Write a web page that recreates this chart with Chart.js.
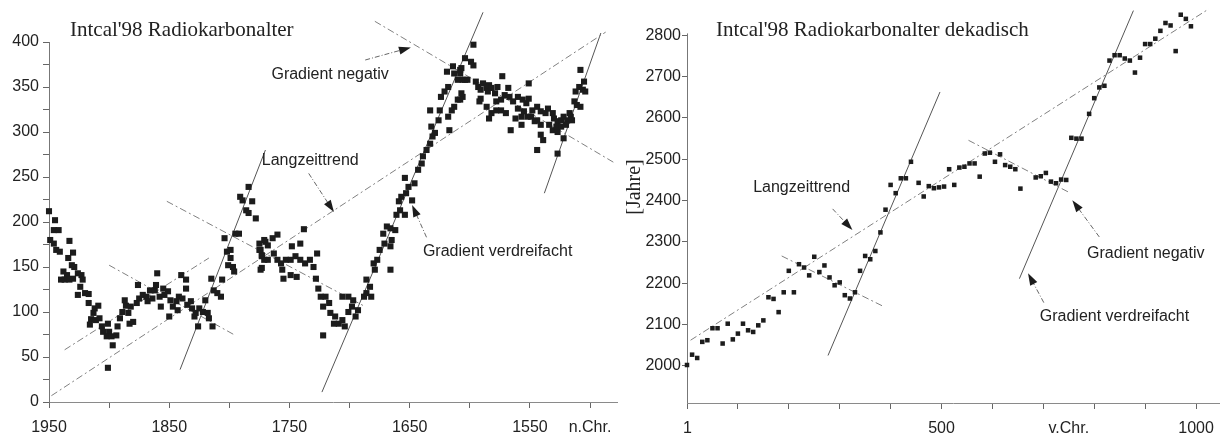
<!DOCTYPE html>
<html>
<head>
<meta charset="utf-8">
<script src="https://cdn.jsdelivr.net/npm/chart.js@4.4.1/dist/chart.umd.min.js"></script>
<style>
  html, body { margin: 0; padding: 0; background: #fff; }
  #wrap { position: relative; width: 1224px; height: 441px; overflow: hidden; }
  canvas { position: absolute; top: 0; }
  #leftChart { left: 0; }
  #rightChart { left: 622px; }
</style>
</head>
<body>
<div id="wrap">
  <canvas id="leftChart" width="622" height="441"></canvas>
  <canvas id="rightChart" width="602" height="441"></canvas>
</div>
<script>
// ---- left panel: Intcal'98, 1950 .. 1500 n.Chr.
const leftYears = [
  1950,1945,1946,1942,1949,1946,1944,1941,1933,1930,
  1934,1931,1929,1938,1935,1937,1940,1933,1930,1926,
  1923,1922,1924,1926,1920,1917,1917,1912,1909,1913,
  1915,1911,1916,1908,1906,1905,1901,1900,1902,1898,
  1897,1894,1893,1891,1889,1886,1887,1884,1883,1880,
  1882,1877,1875,1876,1872,1869,1866,1868,1864,1862,
  1861,1860,1858,1857,1855,1854,1851,1850,1849,1847,
  1844,1842,1843,1839,1840,1836,1836,1835,1832,1831,
  1828,1829,1826,1825,1822,1820,1818,1815,1817,1814,
  1813,1810,1807,1806,1804,1802,1799,1801,1797,1796,
  1795,1792,1799,1791,1784,1789,1781,1786,1784,1778,
  1775,1774,1773,1770,1771,1774,1901,
  1771,1768,1764,1760,1775,1773,1768,1763,1760,1757,
  1753,1749,1745,1741,1737,1733,1730,1727,1748,1741,
  1738,1756,1755,1749,1744,1773,1728,1726,1724,1720,
  1717,1722,1716,1712,1709,1706,1713,1704,1722,1701,
  1698,1695,1693,1706,1701,1697,1688,1686,1683,1682,
  1686,1679,1680,1677,1675,1671,1672,1669,1666,1662,
  1665,1666,1666,1661,1658,1654,1659,1657,1653,1648,
  1651,1646,1654,1643,1640,1639,1636,1633,1631,1629,
  1632,1626,1633,1625,1624,1621,1618,1615,1613,1610,
  1606,1619,1613,1608,1610,1604,1617,1618,1614,
  1597,1604,1599,1597,1607,1608,1606,1602,1607,1608,
  1595,1593,1589,1591,1586,1584,1585,1579,1582,1577,
  1573,1568,1574,1578,1571,1567,1564,1560,1556,1553,
  1551,1548,1549,1544,1541,1537,1535,1531,1530,1527,
  1524,1522,1519,1516,1515,1517,1513,1511,1508,1512,
  1509,1505,1506,1504,1508,1551,1591,1592,1586,1582,
  1584,1578,1574,1570,1566,1562,1557,1557,1560,1555,
  1552,1546,1544,1541,1534,1531,1527,1541,1539,1522,
  1544,1527,1528,1524,1520
];
const leftAge = [
  212,202,191,191,180,176,169,167,179,166,
  160,152,150,145,141,136,136,136,137,143,
  141,136,128,119,121,120,110,104,107,99,
  92,91,86,93,84,78,87,78,73,73,
  63,74,84,93,100,107,113,99,87,89,
  106,110,115,130,119,117,124,112,115,124,
  130,143,117,106,126,119,123,95,113,106,
  112,117,102,115,141,136,126,108,112,104,
  99,95,84,104,100,113,99,137,93,84,
  124,121,117,136,182,167,169,152,150,145,
  187,187,160,228,239,224,223,213,210,204,
  176,169,163,178,158,147,38,
  180,174,182,186,169,162,158,165,158,154,
  158,158,162,158,154,158,150,165,173,176,
  192,147,137,141,139,149,137,126,117,117,
  110,106,99,95,87,91,87,84,74,100,
  106,95,102,117,117,113,117,121,128,117,
  136,147,154,158,169,176,187,195,193,191,
  180,173,147,208,213,208,223,228,232,224,
  239,243,249,258,265,273,280,287,295,299,
  306,313,324,324,339,345,350,324,328,336,
  339,367,365,369,358,358,302,317,373,
  397,382,378,374,371,365,358,358,343,336,
  356,350,354,347,349,352,345,343,349,350,
  362,349,336,334,341,339,334,339,336,332,
  337,324,317,328,323,321,326,321,315,312,
  313,317,313,317,313,321,334,330,328,345,
  350,356,347,345,369,354,337,334,328,321,
  315,324,324,321,302,315,317,308,326,323,
  317,312,313,308,308,302,300,297,291,293,
  280,276,306,306,308
];
const leftXTicks = [1950, 1900, 1850, 1800, 1750, 1700, 1650, 1600, 1550, 1500];
const leftXLabels = ["1950", "", "1850", "", "1750", "", "1650", "", "1550", "n.Chr."];
const leftYTicks = [0, 25, 50, 75, 100, 125, 150, 175, 200, 225, 250, 275, 300, 325, 350, 375, 400];

// trend lines [year, age]
const leftLongTrend = [[1948, 7], [1487, 411]];
const leftParallel = [[1937, 58], [1817, 160]];
const leftNegA = [[1900, 152], [1795, 74]];
const leftNegB = [[1852, 223], [1687, 106]];
const leftNegC = [[1679, 423], [1480, 266]];
const leftSteepA = [[1841, 36], [1770, 280]];
const leftSteepB = [[1723, 11], [1589, 433]];
const leftSteepC = [[1538, 232], [1491, 410]];

// ---- right panel: decadal, 1 .. 1000 v.Chr.
const rightYears = [
  0,10,20,30,40,50,60,70,80,90,
  100,110,120,130,140,150,160,170,180,190,
  200,210,220,230,240,250,260,270,280,290,
  300,310,320,330,340,350,360,370,380,390,
  400,410,420,430,440,455,465,475,485,495,
  505,515,525,535,545,555,565,575,585,595,
  605,615,625,635,645,655,685,695,705,715,
  725,735,745,755,765,775,790,800,810,820,
  830,840,850,860,870,880,890,900,910,920,
  930,940,950,960,970,980,990
];
const rightAge = [
  2002,2027,2019,2058,2062,2091,2091,2054,2102,2064,
  2078,2102,2086,2082,2098,2110,2166,2162,2130,2178,
  2230,2178,2246,2238,2219,2264,2227,2243,2214,2195,
  2202,2171,2163,2178,2230,2266,2258,2278,2323,2378,
  2438,2418,2454,2454,2494,2443,2410,2435,2430,2432,
  2434,2476,2438,2480,2482,2490,2490,2458,2514,2516,
  2494,2512,2486,2482,2476,2429,2456,2459,2467,2446,
  2442,2451,2450,2552,2550,2550,2610,2648,2674,2678,
  2739,2752,2752,2744,2739,2710,2746,2779,2779,2792,
  2811,2830,2824,2762,2850,2840,2822
];
const rightXTicks = [1, 100, 200, 300, 400, 500, 600, 700, 750, 800, 900, 1000];
const rightXLabels = ["1", "", "", "", "", "500", "", "", "v.Chr.", "", "", "1000"];
const rightYTicks = [2000, 2100, 2200, 2300, 2400, 2500, 2600, 2700, 2800];

const rightLongTrend = [[7, 2062], [1025, 2864]];
const rightNegA = [[186, 2266], [384, 2145]];
const rightNegB = [[553, 2546], [752, 2419]];
const rightSteepA = [[277, 2025], [497, 2663]];
const rightSteepB = [[653, 2211], [877, 2860]];

const SANS = '"Liberation Sans", Arial, sans-serif';
const SERIF = '"Liberation Serif", "Times New Roman", serif';

function pts(xs, ys) {
  return xs.map((v, i) => ({ x: v, y: ys[i] }));
}

function trend(line, steep) {
  return {
    data: line.map(p => ({ x: p[0], y: p[1] })),
    showLine: true,
    pointRadius: 0,
    borderColor: steep ? '#555' : '#808080',
    borderWidth: 1,
    borderDash: steep ? [] : [7, 3, 2, 3],
    clip: false,
    order: 2
  };
}

function scatter(xs, ys, r) {
  return {
    data: pts(xs, ys),
    pointStyle: 'rect',
    pointRadius: r,
    backgroundColor: '#1c1c1c',
    borderWidth: 0,
    clip: false,
    order: 1
  };
}

// titles, texts, arrows (and a shortened y axis line on the right)
function notes(cfg) {
  return {
    id: 'notes',
    beforeDatasetsDraw(chart) {
      if (cfg.axisTop === undefined) return;
      const { ctx, chartArea, scales: { y } } = chart;
      ctx.save();
      ctx.strokeStyle = '#777';
      ctx.lineWidth = 1;
      ctx.beginPath();
      ctx.moveTo(chartArea.left + 0.5, y.getPixelForValue(cfg.axisTop) - 2);
      ctx.lineTo(chartArea.left + 0.5, chartArea.bottom);
      ctx.stroke();
      ctx.restore();
    },
    afterDatasetsDraw(chart) {
      const { ctx, scales: { x, y } } = chart;
      ctx.save();
      ctx.fillStyle = '#222';
      ctx.font = '21px ' + SERIF;
      ctx.textAlign = 'left';
      ctx.textBaseline = 'alphabetic';
      ctx.fillText(cfg.title, cfg.titleX, cfg.titleY);

      if (cfg.yTitle) {
        ctx.save();
        ctx.font = '20px ' + SERIF;
        ctx.translate(cfg.yTitle.x, cfg.yTitle.y);
        ctx.rotate(-Math.PI / 2);
        ctx.textAlign = 'center';
        ctx.textBaseline = 'middle';
        ctx.fillText(cfg.yTitle.text, 0, 0);
        ctx.restore();
      }

      ctx.font = '16px ' + SANS;
      ctx.textBaseline = 'middle';
      cfg.labels.forEach(l => {
        ctx.fillText(l.text, x.getPixelForValue(l.at[0]), y.getPixelForValue(l.at[1]));
      });

      cfg.arrows.forEach(a => {
        const x1 = x.getPixelForValue(a.from[0]), y1 = y.getPixelForValue(a.from[1]);
        const x2 = x.getPixelForValue(a.to[0]), y2 = y.getPixelForValue(a.to[1]);
        const ang = Math.atan2(y2 - y1, x2 - x1);
        const c = Math.cos(ang), s = Math.sin(ang);
        ctx.strokeStyle = '#666';
        ctx.lineWidth = 1;
        ctx.setLineDash([5, 2, 1, 2]);
        ctx.beginPath();
        ctx.moveTo(x1, y1);
        ctx.lineTo(x2 - 8 * c, y2 - 8 * s);
        ctx.stroke();
        ctx.setLineDash([]);
        ctx.beginPath();
        ctx.moveTo(x2, y2);
        ctx.lineTo(x2 - 12 * c + 4 * s, y2 - 12 * s - 4 * c);
        ctx.lineTo(x2 - 12 * c - 4 * s, y2 - 12 * s + 4 * c);
        ctx.closePath();
        ctx.fillStyle = '#1c1c1c';
        ctx.fill();
      });
      ctx.restore();
    }
  };
}

function baseOptions(pad) {
  return {
    responsive: false,
    animation: false,
    devicePixelRatio: 1,
    events: [],
    layout: { padding: pad },
    plugins: { legend: { display: false }, tooltip: { enabled: false } }
  };
}

// left chart
new Chart(document.getElementById('leftChart'), {
  type: 'scatter',
  data: {
    datasets: [
      trend(leftLongTrend, false),
      trend(leftParallel, false),
      trend(leftNegA, false),
      trend(leftNegB, false),
      trend(leftNegC, false),
      trend(leftSteepA, true),
      trend(leftSteepB, true),
      trend(leftSteepC, true),
      scatter(leftYears, leftAge, 4.3)
    ]
  },
  options: Object.assign(baseOptions({ left: 0, right: 2, top: 42, bottom: 0 }), {
    scales: {
      x: {
        type: 'linear', reverse: true, min: 1477, max: 1950,
        afterBuildTicks: s => { s.ticks = leftXTicks.map(v => ({ value: v })); },
        afterFit: s => { s.height = 39; },
        ticks: {
          autoSkip: false, maxRotation: 0, padding: 10, color: '#222',
          font: { family: SANS, size: 16 },
          callback: v => leftXLabels[leftXTicks.indexOf(v)]
        },
        grid: { drawOnChartArea: false, tickLength: 6, color: '#666' },
        border: { color: '#8a8a8a', dash: [6, 2, 1, 2] }
      },
      y: {
        min: 0, max: 400,
        afterBuildTicks: s => { s.ticks = leftYTicks.map(v => ({ value: v })); },
        afterFit: s => { s.width = 49; },
        ticks: {
          autoSkip: false, padding: 4, color: '#222',
          font: { family: SANS, size: 16 },
          callback: v => (v % 50 === 0 ? String(v) : '')
        },
        grid: { drawOnChartArea: false, tickLength: 6, color: '#666' },
        border: { color: '#777' }
      }
    }
  }),
  plugins: [notes({
    title: "Intcal'98 Radiokarbonalter", titleX: 70, titleY: 36,
    labels: [
      { text: 'Gradient negativ', at: [1765, 364] },
      { text: 'Langzeittrend', at: [1773, 268] },
      { text: 'Gradient verdreifacht', at: [1639, 167] }
    ],
    arrows: [
      { from: [1687, 380], to: [1649, 394] },
      { from: [1734, 254], to: [1713, 211] },
      { from: [1636, 183], to: [1648, 219] }
    ]
  })]
});

// right chart
new Chart(document.getElementById('rightChart'), {
  type: 'scatter',
  data: {
    datasets: [
      trend(rightLongTrend, false),
      trend(rightNegA, false),
      trend(rightNegB, false),
      trend(rightSteepA, true),
      trend(rightSteepB, true),
      scatter(rightYears, rightAge, 3.2)
    ]
  },
  options: Object.assign(baseOptions({ left: 0, right: 0, top: 7, bottom: 0 }), {
    scales: {
      x: {
        type: 'linear', min: 0, max: 1046,
        afterBuildTicks: s => { s.ticks = rightXTicks.map(v => ({ value: v })); },
        afterFit: s => { s.height = 38; },
        ticks: {
          autoSkip: false, maxRotation: 0, padding: 10, color: '#222',
          font: { family: SANS, size: 16 },
          callback: v => rightXLabels[rightXTicks.indexOf(v)]
        },
        grid: {
          drawOnChartArea: false, tickLength: 6,
          color: c => (c.tick && c.tick.value === 750 ? 'rgba(0,0,0,0)' : '#666')
        },
        border: { color: '#8a8a8a', dash: [6, 2, 1, 2] }
      },
      y: {
        min: 1910, max: 2860,
        afterBuildTicks: s => { s.ticks = rightYTicks.map(v => ({ value: v })); },
        afterFit: s => { s.width = 65; },
        ticks: {
          autoSkip: false, padding: 1, color: '#222',
          font: { family: SANS, size: 16 },
          callback: v => String(v)
        },
        grid: { drawOnChartArea: false, tickLength: 5, color: '#666' },
        border: { display: false }
      }
    }
  }),
  plugins: [notes({
    title: "Intcal'98 Radiokarbonalter dekadisch", titleX: 94, titleY: 36,
    axisTop: 2800,
    yTitle: { text: '[Jahre]', x: 13, y: 187 },
    labels: [
      { text: 'Langzeittrend', at: [130, 2432] },
      { text: 'Gradient negativ', at: [786, 2272] },
      { text: 'Gradient verdreifacht', at: [693, 2120] }
    ],
    arrows: [
      { from: [286, 2380], to: [325, 2329] },
      { from: [810, 2312], to: [757, 2401] },
      { from: [701, 2153], to: [670, 2224] }
    ]
  })]
});
</script>
</body>
</html>
